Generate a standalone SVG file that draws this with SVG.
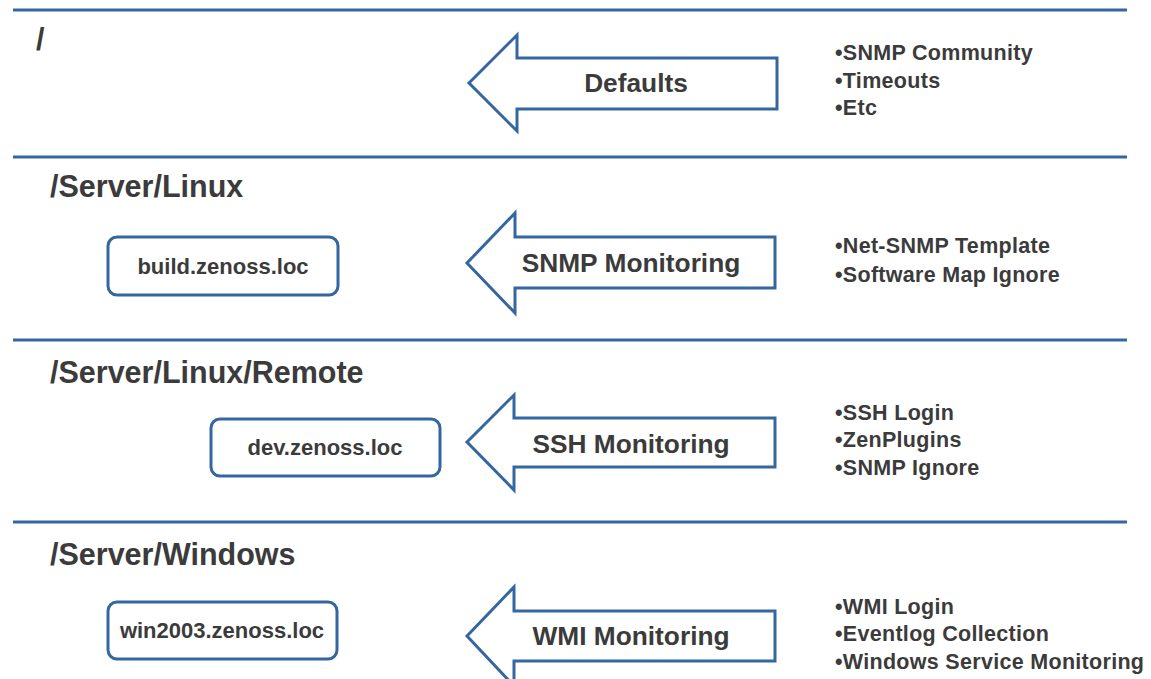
<svg xmlns="http://www.w3.org/2000/svg" width="1151" height="679" viewBox="0 0 1151 679">
<style>
.sep{stroke:#3466a0;stroke-width:3}
.arrow{fill:#fff;stroke:#3466a0;stroke-width:3;stroke-linejoin:miter}
.box{fill:#fff;stroke:#3466a0;stroke-width:3}
text{font-family:"Liberation Sans",Arial,sans-serif;font-weight:bold;fill:#3b3b3b}
.title{font-size:30.5px}
.lbl{font-size:26.3px;text-anchor:middle}
.host{font-size:22px;text-anchor:middle}
.bul{font-size:21.5px;letter-spacing:0.3px}
</style>
<rect width="1151" height="679" fill="#fff"/>
<g id="separators">
<line class="sep" x1="13" y1="10" x2="1127" y2="10"/>
<line class="sep" x1="13" y1="157" x2="1127" y2="157"/>
<line class="sep" x1="13" y1="340" x2="1127" y2="340"/>
<line class="sep" x1="13" y1="522" x2="1127" y2="522"/>
</g>
<g id="titles">
<text class="title" x="36" y="50">/</text>
<text class="title" x="50" y="197">/Server/Linux</text>
<text class="title" x="50" y="383">/Server/Linux/Remote</text>
<text class="title" x="50" y="565">/Server/Windows</text>
</g>
<g id="node-build">
<rect class="box" x="108" y="237" width="230" height="58" rx="9"/>
<text class="host" x="223" y="274">build.zenoss.loc</text>
</g>
<g id="node-dev">
<rect class="box" x="211" y="419" width="229" height="57" rx="9"/>
<text class="host" x="325" y="455">dev.zenoss.loc</text>
</g>
<g id="node-win">
<rect class="box" x="108" y="602" width="229" height="57" rx="9"/>
<text class="host" x="222" y="638">win2003.zenoss.loc</text>
</g>
<g id="connectors">
<polygon class="arrow" points="469,83 517,35 517,58 777,58 777,109 517,109 517,131"/>
<polygon class="arrow" points="467,263 515,213 515,237 775,237 775,288 515,288 515,313"/>
<polygon class="arrow" points="467,442 514,395 514,418 775,418 775,467 514,467 514,490"/>
<polygon class="arrow" points="467,636 514,587 514,611 775,611 775,661 514,661 514,686"/>
</g>
<g id="arrow-labels">
<text class="lbl" x="636" y="92">Defaults</text>
<text class="lbl" x="631" y="272">SNMP Monitoring</text>
<text class="lbl" x="631" y="453">SSH Monitoring</text>
<text class="lbl" x="631" y="645">WMI Monitoring</text>
</g>
<g id="notes-defaults">
<text class="bul" x="835" y="60">•SNMP Community</text>
<text class="bul" x="835" y="88">•Timeouts</text>
<text class="bul" x="835" y="115">•Etc</text>
</g>
<g id="notes-linux">
<text class="bul" x="835" y="253">•Net-SNMP Template</text>
<text class="bul" x="835" y="282">•Software Map Ignore</text>
</g>
<g id="notes-remote">
<text class="bul" x="835" y="420">•SSH Login</text>
<text class="bul" x="835" y="447">•ZenPlugins</text>
<text class="bul" x="835" y="475">•SNMP Ignore</text>
</g>
<g id="notes-windows">
<text class="bul" x="835" y="614">•WMI Login</text>
<text class="bul" x="835" y="641">•Eventlog Collection</text>
<text class="bul" x="835" y="669">•Windows Service Monitoring</text>
</g>
</svg>
